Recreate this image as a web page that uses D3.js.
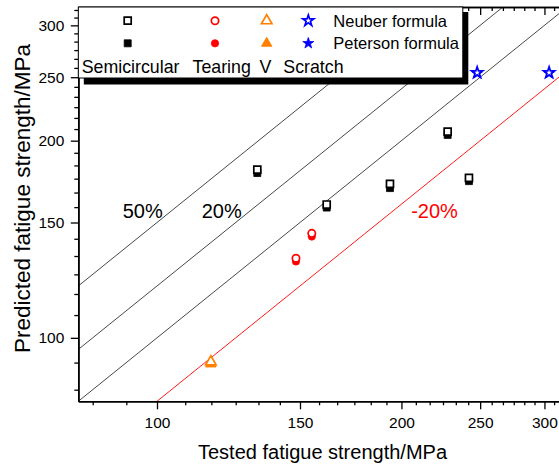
<!DOCTYPE html>
<html>
<head>
<meta charset="utf-8">
<script src="https://cdn.jsdelivr.net/npm/d3@7"></script>
<style>
html,body{margin:0;padding:0;background:#fff;}
text{font-family:Arial,"Liberation Sans",sans-serif;}
</style>
</head>
<body>
<svg id="chart" width="559" height="465"></svg>
<script>
// ---------- data ----------
const categories = ["Semicircular", "Tearing", "V", "Scratch"];
const seriesNames = ["Neuber formula", "Peterson formula"];
const colors = ["#000000", "#ff0000", "#ff8000", "#0000ff"];
const symbols = [d3.symbolSquare, d3.symbolCircle, d3.symbolTriangle, d3.symbolStar];

// tested fatigue strength (MPa)
const testedSemicircular = [132.9, 161.8, 193.6, 228.0, 242.2];
const testedTearing = [148.3, 155.1];
const testedV = [116.5];
const testedScratch = [247.9, 304.0];
// predicted - Neuber formula
const neuberSemicircular = [180.7, 159.8, 171.8, 206.4, 175.5];
const neuberTearing = [132.3, 144.4];
const neuberV = [91.9];
const neuberScratch = [254.1, 254.1];
// predicted - Peterson formula
const petersonSemicircular = [178.5, 158.1, 169.3, 204.1, 173.5];
const petersonTearing = [130.8, 142.8];
const petersonV = [91.2];
const petersonScratch = [253.3, 253.3];

// error band lines y = k*x
const bandFactors = [1.5, 1.2, 1.0, 0.8];
const bandColors = ["#333", "#333", "#333", "#ff0000"];
const bandLabels = ["50%", "20%", "-20%"];

const majorTicks = [100, 150, 200, 250, 300];
const domain = [80, 320];

// ---------- layout ----------
const svg = d3.select("#chart");
const mLeft = 78.3, mRight = 567.2, mTop = 7.0, mBottom = 401.3;
const x = d3.scaleLog().domain(domain).range([mLeft, mRight]);
const y = d3.scaleLog().domain(domain).range([mBottom, mTop]);

const minorStep = 50 / 6;
const minorTicks = d3.range(-3, 30).map(i => 100 + i * minorStep)
  .filter(v => v > domain[0] && v < domain[1] && !majorTicks.some(m => Math.abs(m - v) < 1e-6));

svg.append("defs").append("clipPath").attr("id", "clip")
  .append("rect").attr("x", mLeft).attr("y", mTop).attr("width", mRight - mLeft).attr("height", mBottom - mTop);

// ---------- band lines ----------
const lineGen = d3.line().x(d => x(d[0])).y(d => y(d[1]));
const gLines = svg.append("g").attr("clip-path", "url(#clip)");
bandFactors.forEach((k, i) => {
  const x0 = Math.max(domain[0], domain[0] / k), x1 = Math.min(domain[1], domain[1] / k);
  gLines.append("path")
    .attr("d", lineGen([[x0, x0 * k], [x1, x1 * k]]))
    .attr("fill", "none").attr("stroke", bandColors[i]).attr("stroke-width", 0.9);
});

// band labels
svg.append("text").attr("x", 122.7).attr("y", 218.3).attr("font-size", 20).attr("fill", "#000").text(bandLabels[0]);
svg.append("text").attr("x", 201.7).attr("y", 218.3).attr("font-size", 20).attr("fill", "#000").text(bandLabels[1]);
svg.append("text").attr("x", 434.5).attr("y", 217.5).attr("font-size", 20).attr("text-anchor", "middle").attr("fill", "#ff0000").text(bandLabels[2]);

// ---------- axes ----------
function styleAxis(g, width) {
  g.select(".domain").attr("stroke", "#000").attr("stroke-width", width);
  g.selectAll(".tick line").attr("stroke", "#000").attr("stroke-width", 1.3);
  g.selectAll(".tick text").attr("font-size", 15.5).attr("fill", "#000")
    .attr("font-family", "Arial, 'Liberation Sans', sans-serif");
}
// bottom
const gxMinor = svg.append("g").attr("transform", `translate(0,${mBottom})`)
  .call(d3.axisBottom(x).tickValues(minorTicks).tickSize(4).tickSizeOuter(0).tickFormat(""));
styleAxis(gxMinor, 1.6);
const gx = svg.append("g").attr("transform", `translate(0,${mBottom})`)
  .call(d3.axisBottom(x).tickValues(majorTicks).tickSize(8).tickSizeOuter(0).tickPadding(7.5).tickFormat(d3.format("d")));
styleAxis(gx, 1.6);
// top (inward ticks)
const gtMinor = svg.append("g").attr("transform", `translate(0,${mTop})`)
  .call(d3.axisBottom(x).tickValues(minorTicks).tickSize(4).tickSizeOuter(0).tickFormat(""));
styleAxis(gtMinor, 1.6);
const gt = svg.append("g").attr("transform", `translate(0,${mTop})`)
  .call(d3.axisBottom(x).tickValues(majorTicks).tickSize(8).tickSizeOuter(0).tickFormat(""));
styleAxis(gt, 1.6);
// left
const gyMinor = svg.append("g").attr("transform", `translate(${mLeft},0)`)
  .call(d3.axisLeft(y).tickValues(minorTicks).tickSize(4).tickSizeOuter(0).tickFormat(""));
styleAxis(gyMinor, 1.6);
const gy = svg.append("g").attr("transform", `translate(${mLeft},0)`)
  .call(d3.axisLeft(y).tickValues(majorTicks).tickSize(7.5).tickSizeOuter(0).tickPadding(6.5).tickFormat(d3.format("d")));
styleAxis(gy, 1.6);

// axis titles
svg.append("text").attr("x", 322.5).attr("y", 459).attr("text-anchor", "middle")
  .attr("font-size", 20).attr("fill", "#000").text("Tested fatigue strength/MPa");
svg.append("text").attr("transform", "translate(29.5,198.5) rotate(-90)").attr("text-anchor", "middle")
  .attr("font-size", 22.5).attr("fill", "#000").text("Predicted fatigue strength/MPa");

// ---------- markers ----------
const symSizes = [49, 42, 48, 38];
const tested = [testedSemicircular, testedTearing, testedV, testedScratch];
const neuber = [neuberSemicircular, neuberTearing, neuberV, neuberScratch];
const peterson = [petersonSemicircular, petersonTearing, petersonV, petersonScratch];

function marker(g, cx, cy, ci, filled) {
  g.append("path")
    .attr("d", d3.symbol().type(symbols[ci]).size(symSizes[ci])())
    .attr("transform", `translate(${cx},${cy})`)
    .attr("fill", filled ? colors[ci] : "#fff")
    .attr("stroke", colors[ci])
    .attr("stroke-width", filled ? 0.8 : 1.7)
    .attr("stroke-linejoin", "miter");
}

const gPts = svg.append("g");
categories.forEach((c, ci) => {
  tested[ci].forEach((t, j) => marker(gPts, x(t), y(peterson[ci][j]), ci, true));
  tested[ci].forEach((t, j) => marker(gPts, x(t), y(neuber[ci][j]), ci, false));
});

// ---------- legend ----------
const gL = svg.append("g");
gL.append("rect").attr("x", mLeft + 5.5).attr("y", mTop + 5).attr("width", 384.5).attr("height", 72.5).attr("fill", "#000");
gL.append("rect").attr("x", mLeft).attr("y", mTop).attr("width", 384.5).attr("height", 71)
  .attr("fill", "#fff").attr("stroke", "#000").attr("stroke-width", 1);
const legX = [127.7, 215, 266.7, 308.3];
const rowY = [20.7, 43.3];
categories.forEach((c, ci) => {
  marker(gL, legX[ci], rowY[0], ci, false);
  marker(gL, legX[ci], rowY[1], ci, true);
});
gL.append("text").attr("x", 333.3).attr("y", 26.8).attr("font-size", 16.5).attr("fill", "#000").text(seriesNames[0]);
gL.append("text").attr("x", 333.3).attr("y", 49.3).attr("font-size", 16.5).attr("fill", "#000").text(seriesNames[1]);
const catX = [81.7, 192.5, 259.5, 283.3];
categories.forEach((c, ci) => {
  gL.append("text").attr("x", catX[ci]).attr("y", 72.7).attr("font-size", 17.8).attr("fill", "#000").text(c);
});
</script>
</body>
</html>
